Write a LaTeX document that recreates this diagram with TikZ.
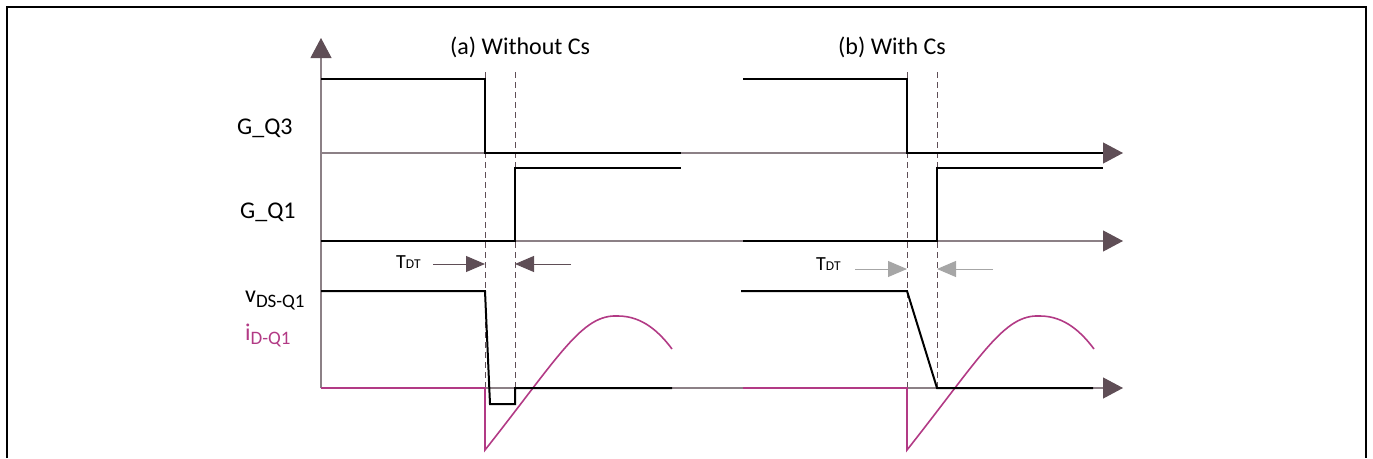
\documentclass[tikz,border=0pt]{standalone}
\usepackage{fontspec}
\setmainfont{Carlito}
\usetikzlibrary{arrows.meta}

\definecolor{axisgray}{RGB}{140,128,134}
\definecolor{tipmauve}{RGB}{95,78,86}
\definecolor{berry}{RGB}{178,58,133}
\definecolor{lightarrow}{RGB}{166,166,166}

\begin{document}
\begin{tikzpicture}[
  x=1pt, y=-1pt,
  axis/.style={draw=axisgray, line width=1.1pt},
  axisarrow/.style={axis, -{Triangle[length=20pt,width=21pt,color=tipmauve]}},
  wave/.style={draw=black, line width=2pt},
  current/.style={draw=berry, line width=1.6pt},
  dead/.style={draw=tipmauve, line width=0.9pt, dash pattern=on 6pt off 4pt},
  tdt/.style={draw=tipmauve, line width=1pt, -{Triangle[length=19pt,width=16pt]}},
  tdtlight/.style={tdt, draw=lightarrow},
  lbl/.style={inner sep=0pt, anchor=base west, font=\fontsize{24}{28}\selectfont},
]
\useasboundingbox (0,0) rectangle (1373,458);
\draw[line width=2.5pt] (7,458) -- (7,7) -- (1366,7) -- (1366,458);

% Titles and signal names
\node[lbl] (titleA) at (450,54) {(a) Without Cs};
\node[lbl] (titleB) at (838,54) {(b) With Cs};
\node[lbl] (gq3) at (237,134) {G\_Q3};
\node[lbl] (gq1) at (240,218) {G\_Q1};
\node[lbl] (vds) at (245,302)
  {v\raisebox{-5pt}{\fontsize{19}{22}\selectfont DS-Q1}};
\node[lbl, text=berry] (idq) at (245,340)
  {i\raisebox{-4pt}{\fontsize{19}{22}\selectfont D-Q1}};
\node[lbl, font=\fontsize{20}{24}\selectfont] (tdtA) at (396,268)
  {T{\fontsize{13.5}{16}\selectfont DT}};
\node[lbl, font=\fontsize{20}{24}\selectfont] (tdtB) at (816,270)
  {T{\fontsize{13.5}{16}\selectfont DT}};

% Axes
\draw[axisarrow] (321,388) -- (321,38);
\draw[axisarrow] (321,153) -- (1123,153);
\draw[axisarrow] (321,241) -- (1123,241);
\draw[axisarrow] (321,388) -- (1123,388);

% Dead-time markers
\foreach \xd in {485,515,907,937}
  \draw[dead] (\xd,72) -- (\xd,388);

% (a) without Cs
\draw[wave] (321,79) -- (485,79) -- (485,153) -- (681,153);
\draw[wave] (321,241) -- (515,241) -- (515,168) -- (681,168);
\draw[current] (321,388) -- (485,388) -- (485,450)
  .. controls (560,355) and (582,314) .. (618,316)
  .. controls (643,316) and (660,333) .. (672,349);
\draw[wave] (321,291) -- (485,291) -- (490,404) -- (515,404) -- (515,388) -- (672,388);

% (b) with Cs
\draw[wave] (743,79) -- (907,79) -- (907,153) -- (1103,153);
\draw[wave] (743,241) -- (937,241) -- (937,168) -- (1103,168);
\draw[current] (743,388) -- (907,388) -- (907,450)
  .. controls (982,355) and (1004,314) .. (1040,316)
  .. controls (1065,316) and (1082,333) .. (1094,349);
\draw[wave] (741,291) -- (907,291) -- (937,388) -- (1093,388);

% T_DT arrows
\coordinate (dtA1) at (485,264);
\coordinate (dtA2) at (515,264);
\coordinate (dtB1) at (907,269);
\coordinate (dtB2) at (937,269);
\draw[tdt] (433,264) -- (dtA1);
\draw[tdt] (571,264) -- (dtA2);
\draw[tdtlight] (855,269) -- (dtB1);
\draw[tdtlight] (993,269) -- (dtB2);
\end{tikzpicture}
\end{document}
